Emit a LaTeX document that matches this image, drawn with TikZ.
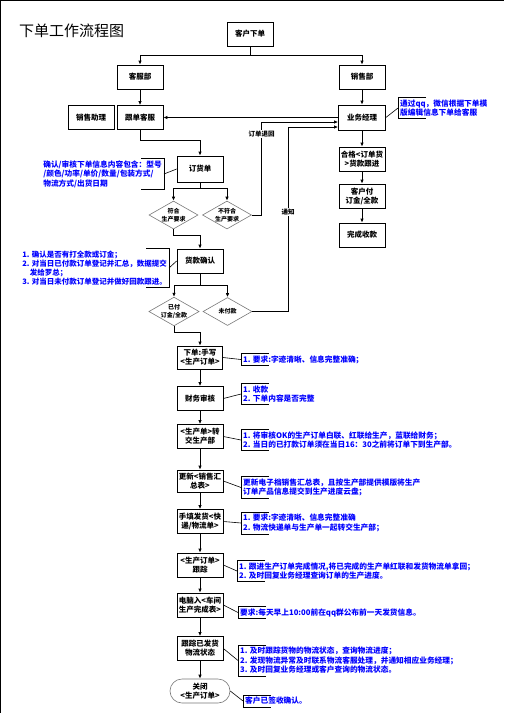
\documentclass[tikz,border=0pt]{standalone}
\usepackage{fontspec}
\setmainfont{Noto Sans CJK SC}
\usetikzlibrary{arrows.meta,shapes.geometric,calc}
\definecolor{noteblue}{RGB}{0,0,255}
\definecolor{edgegray}{RGB}{120,120,120}
\tikzset{
  procbox/.style={draw=black, line width=0.8pt, minimum width=46pt, minimum height=24pt,
    align=center, inner sep=1pt, font=\bfseries\fontsize{7.5}{9}\selectfont},
  checkbox/.style={diamond, draw=edgegray, line width=0.6pt, aspect=1.75, inner sep=0pt,
    minimum width=49pt, minimum height=28pt, align=center, font=\bfseries\fontsize{6}{7.5}\selectfont},
  endbox/.style={draw=edgegray, line width=0.6pt, rounded corners=12pt, minimum width=60pt,
    minimum height=24pt, align=center, inner sep=1pt, font=\bfseries\fontsize{7.5}{9}\selectfont},
  notetext/.style={text=noteblue, align=left, inner xsep=2pt, inner ysep=2pt,
    font=\bfseries\fontsize{7.7}{9.5}\selectfont},
  linklabel/.style={fill=white, inner sep=1pt, font=\bfseries\fontsize{6.5}{7}\selectfont},
  flow/.style={-{Latex[length=4pt,width=3.5pt]}, line width=0.8pt},
  link/.style={line width=0.6pt},
  brace/.style={line width=0.8pt}
}
\begin{document}
\begin{tikzpicture}[x=1pt,y=-1pt]
\useasboundingbox (0,0) rectangle (504,713);
\draw[line width=0.8pt] (0.5,713) -- (0.5,0.5) -- (504,0.5);

\node[anchor=west, inner sep=0pt, font=\fontsize{15}{15}\selectfont] (title) at (19,31) {下单工作流程图};

% top part
\node[procbox] (order) at (250,34) {客户下单};
\node[procbox] (csdept) at (140,77) {客服部};
\node[procbox] (salesdept) at (362,77) {销售部};
\node[procbox] (assist) at (91,117.5) {销售助理};
\node[procbox] (follow) at (140,117.5) {跟单客服};
\node[procbox, minimum width=47pt, minimum height=25pt] (manager) at (362,117.5) {业务经理};
\node[procbox] (qualified) at (362,159) {合格<订单货\\>货款跟进};
\node[procbox] (custpay) at (362,196) {客户付\\订金/全款};
\node[procbox] (done) at (362,235) {完成收款};

\node[procbox, minimum height=26pt] (po) at (200,169) {订货单};
\node[checkbox] (fit) at (173.5,215) {符合\\生产要求};
\node[checkbox] (nofit) at (227,215) {不符合\\生产要求};
\node[procbox] (payck) at (200,261) {货款确认};
\node[checkbox] (paid) at (174,311.5) {已付\\订金/全款};
\node[checkbox] (unpaid) at (227.5,311.5) {未付款};

% main chain
\node[procbox, minimum width=45pt, minimum height=23pt] (handwrite) at (200,357.5) {下单:手写\\<生产订单>};
\node[procbox] (finance) at (200,398.5) {财务审核};
\node[procbox] (transfer) at (200,436.5) {<生产单>转\\交生产部};
\node[procbox, minimum height=22pt] (update) at (200,481) {更新<销售汇\\总表>};
\node[procbox] (ship) at (200,521.5) {手填发货<快\\递/物流单>};
\node[procbox] (track) at (200,565) {<生产订单>\\跟踪};
\node[procbox] (entry) at (200,605) {电脑入<车间\\生产完成表>};
\node[procbox] (logistics) at (200,648.5) {跟踪已发货\\物流状态};
\node[endbox] (close) at (200,691) {关闭\\<生产订单>};

% notes
\node[notetext, anchor=west] (mgrnote) at (398,108) {通过qq，微信根据下单模\\版编辑信息下单给客服};
\node[notetext, anchor=east] (ponote) at (164,174) {确认/审核下单信息内容包含：型号\\/颜色/功率/单价/数量/包装方式/\\物流方式/出货日期};
\node[notetext, anchor=east, font=\bfseries\fontsize{7.5}{9}\selectfont] (paynote) at (169,268) {1. 确认是否有打全款或订金；\\2. 对当日已付款订单登记并汇总，数据提交\\\hspace*{1em}发给罗总；\\3. 对当日未付款订单登记并做好回款跟进。};
\node[notetext, anchor=west] (hwnote) at (241,359.5) {1. 要求:字迹清晰、信息完整准确；};
\node[notetext, anchor=west] (finnote) at (241,394) {1. 收款\\2. 下单内容是否完整};
\node[notetext, anchor=west] (trnote) at (241,440) {1. 将审核OK的生产订单白联、红联给生产，蓝联给财务；\\2. 当日的已打款订单须在当日16：30之前将订单下到生产部。};
\node[notetext, anchor=west] (upnote) at (241,487.5) {更新电子档销售汇总表，且按生产部提供模版将生产\\订单产品信息提交到生产进度云盘；};
\node[notetext, anchor=west] (shipnote) at (241,523) {1. 要求:字迹清晰、信息完整准确\\2. 物流快递单与生产单一起转交生产部；};
\node[notetext, anchor=west] (tracknote) at (237,571) {1. 跟进生产订单完成情况,将已完成的生产单红联和发货物流单拿回；\\2. 及时回复业务经理查询订单的生产进度。};
\node[notetext, anchor=west] (entrynote) at (238,612.5) {要求:每天早上10:00前在qq群公布前一天发货信息。};
\node[notetext, anchor=west] (lognote) at (238,660.5) {1. 及时跟踪货物的物流状态，查询物流进度；\\2. 发现物流异常及时联系物流客服处理，并通知相应业务经理；\\3. 及时回复业务经理或客户查询的物流状态。};
\node[notetext, anchor=west] (closenote) at (243,701) {客户已签收确认。};

\foreach \n in {mgrnote,hwnote,finnote,trnote,upnote,shipnote,tracknote,entrynote,lognote,closenote}
  \draw[brace] ([xshift=28pt]\n.north west) -- (\n.north west) -- (\n.south west) -- ([xshift=28pt]\n.south west);
\foreach \n in {ponote,paynote}
  \draw[brace] ([xshift=-23pt]\n.north east) -- (\n.north east) -- (\n.south east) -- ([xshift=-23pt]\n.south east);

\foreach \b/\n in {manager/mgrnote,handwrite/hwnote,finance/finnote,transfer/trnote,update/upnote,ship/shipnote,track/tracknote,entry/entrynote,logistics/lognote,close/closenote}
  \draw[link] (\b.east) -- (\n.west);
\draw[link] (po.west) -- (ponote.east);
\draw[link] (payck.west) -- (paynote.east);

% connectors
\draw[flow] (order.south) -- ++(0,9) -| (csdept.north);
\draw[flow] (order.south) -- ++(0,9) -| (salesdept.north);
\draw[flow] (csdept) -- (follow);
\draw[flow] (salesdept) -- (manager);
\draw[flow] (manager) -- (follow);
\draw[flow] (manager) -- (qualified);
\draw[flow] (qualified) -- (custpay);
\draw[flow] (custpay) -- (done);

\draw[flow] (follow.south) -- ++(0,10) -| (po.north);
\draw[flow] (po.south) -- ++(0,6) -| (fit.north);
\draw[flow] (po.south) -- ++(0,6) -| (nofit.north);
\draw[flow] (nofit.east) -- ++(10,0) |- ([yshift=-4.5pt]manager.west);
\draw[flow] (fit.south) -- ++(0,6) -| (payck.north);
\draw[flow] (payck.south) -- ++(0,12) -| (paid.north);
\draw[flow] (payck.south) -- ++(0,12) -| (unpaid.north);
\draw[flow] (unpaid.east) -- ++(36,0) |- ([yshift=-9.5pt]manager.west);
\draw[flow] (paid.south) -- ++(0,6) -| (handwrite.north);

\foreach \a/\b in {handwrite/finance,finance/transfer,transfer/update,update/ship,ship/track,track/entry,entry/logistics,logistics/close}
  \draw[flow] (\a) -- (\b);

\node[linklabel] (retlabel) at (261.5,134) {订单退回};
\node[linklabel] (notelabel) at (288,212) {通知};
\end{tikzpicture}
\end{document}
